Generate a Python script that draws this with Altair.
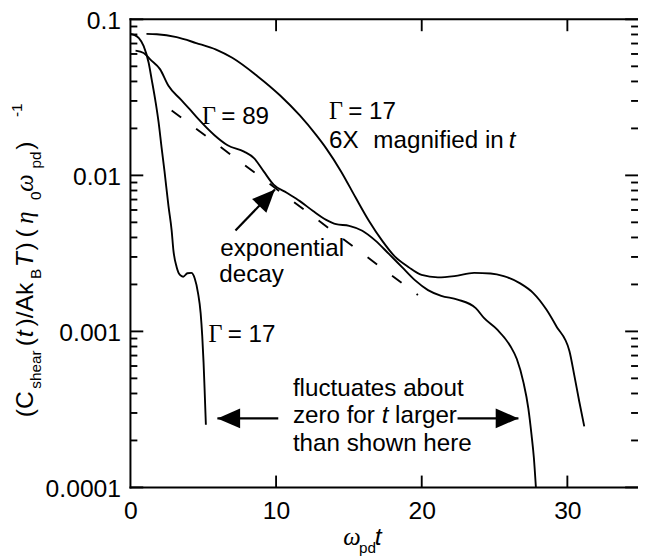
import altair as alt
import pandas as pd

# ---------------- data ----------------
# Gamma = 17 (unmagnified)
g17_t = [0.01, 0.24, 0.58, 0.91, 1.25, 1.46, 1.73, 1.93, 2.13, 2.34, 2.61, 2.83, 2.95,
         3.17, 3.40, 3.62, 3.91, 4.18, 4.41, 4.64, 4.82, 4.93, 5.02, 5.09, 5.18]
g17_c = [0.0807, 0.0796, 0.0758, 0.0674, 0.0527, 0.0411, 0.0294, 0.0220, 0.0153, 0.0106,
         0.00637, 0.00443, 0.00331, 0.00259, 0.00230, 0.00224, 0.00236, 0.00237, 0.00219,
         0.00176, 0.00131, 0.000933, 0.000633, 0.000429, 0.000252]

# Gamma = 89
g89_t = [0.35, 0.91, 1.37, 2.04, 2.61, 3.45, 4.08, 4.64, 5.77, 6.67, 7.80, 8.48, 9.15, 9.83,
         10.73, 11.63, 12.54, 13.44, 14.12, 15.02, 15.92, 16.82, 17.73, 18.63, 19.53, 20.43,
         21.34, 22.46, 23.71, 24.27, 25.17, 26.08, 26.53, 26.98, 27.32, 27.54, 27.70, 27.84]
g89_c = [0.0630, 0.0609, 0.0552, 0.0478, 0.0375, 0.0307, 0.0265, 0.0231, 0.0181, 0.0156,
         0.0142, 0.0129, 0.0106, 0.00872, 0.00773, 0.00684, 0.00591, 0.00519, 0.00487,
         0.00475, 0.00442, 0.00382, 0.00315, 0.00259, 0.00213, 0.00184, 0.00169, 0.00160,
         0.00141, 0.00122, 0.00103, 0.000807, 0.000665, 0.000473, 0.000321, 0.000217,
         0.000155, 0.0001]

# Gamma = 17, 6X magnified in t
g17m_t = [1.10, 1.81, 3.17, 4.52, 5.88, 6.99, 8.70, 10.28, 11.63, 12.76, 13.44, 14.46,
          15.47, 16.37, 17.28, 18.18, 19.08, 19.99, 21.11, 22.24, 23.60, 24.73, 25.63, 26.76,
          27.66, 28.56, 29.24, 30.14, 30.48, 30.82, 31.16]
g17m_c = [0.0807, 0.0803, 0.0769, 0.0705, 0.0640, 0.0567, 0.0434, 0.0325, 0.0242, 0.0181,
          0.0149, 0.0106, 0.00718, 0.00512, 0.00382, 0.00300, 0.00259, 0.00230, 0.00222,
          0.00226, 0.00237, 0.00235, 0.00226, 0.00203, 0.00176, 0.00138, 0.00108, 0.000750,
          0.000521, 0.000354, 0.000246]

# exponential-decay guide (dashed)
exp_t = [2.83, 19.74]
exp_c = [0.0261, 0.00171]

# arrows: tail -> tip
arr_x = [7.21, 10.15, 22.46]
arr_y = [0.00443, 0.000277, 0.000277]
arr_x2 = [9.92, 5.97, 26.64]
arr_y2 = [0.00812, 0.000277, 0.000277]
arr_angle = [43.8, 270, 90]

x_ticks = [0, 10, 20, 30]
y_major = [0.1, 0.01, 0.001, 0.0001]
y_minor = [m * 10.0 ** e for e in (-4, -3, -2) for m in range(2, 10)]

# ---------------- chart ----------------
W, H = 514, 474
SANS = "Liberation Sans"
SERIF = "Liberation Serif"
FS = 24.5

xs = alt.Scale(domain=[0, 34.85], nice=False, zero=False)
ys = alt.Scale(type="log", domain=[0.0001, 0.1], nice=False)
xax = alt.Axis(values=x_ticks, format="d", labelFont=SANS, labelFontSize=25,
               labelColor="black", labelPadding=11, domain=False, ticks=False, grid=False,
               title=None, labelFlush=False, labelOverlap=False)
yax = alt.Axis(values=y_major, format=".4~f", labelFont=SANS, labelFontSize=25,
               labelColor="black", labelPadding=10, labelOffset=1.5, domain=False,
               ticks=False, grid=False, title=None, labelFlush=False, labelOverlap=False)


def X(f):
    return alt.X(f, scale=xs, axis=xax)


def Y(f):
    return alt.Y(f, scale=ys, axis=yax)


rows = []
for name, ts, cs in (("g17", g17_t, g17_c), ("g89", g89_t, g89_c), ("g17m", g17m_t, g17m_c)):
    for i, (t, c) in enumerate(zip(ts, cs)):
        rows.append({"series": name, "i": i, "t": t, "c": c})
curves = pd.DataFrame(rows)

lines = alt.Chart(curves).mark_line(color="black", strokeWidth=1.9, interpolate="monotone").encode(
    x=X("t:Q"), y=Y("c:Q"), detail="series:N", order="i:Q")

dashed = alt.Chart(pd.DataFrame({"t": exp_t, "c": exp_c})).mark_line(
    color="black", strokeWidth=1.9, strokeDash=[12, 19]).encode(x=X("t:Q"), y=Y("c:Q"))

one = pd.DataFrame({"a": [0]})
TW = 1.9


def yticks(vals, length):
    d = pd.DataFrame({"v": vals})
    left = alt.Chart(d).mark_rule(color="black", strokeWidth=TW).encode(
        y=Y("v:Q"), x=alt.value(0), x2=alt.value(length))
    right = alt.Chart(d).mark_rule(color="black", strokeWidth=TW).encode(
        y=Y("v:Q"), x=alt.value(W), x2=alt.value(W - length))
    return [left, right]


xt = pd.DataFrame({"v": [10, 20, 30]})
bottom_ticks = alt.Chart(xt).mark_rule(color="black", strokeWidth=TW).encode(
    x=X("v:Q"), y=alt.value(H), y2=alt.value(H - 12))
top_ticks = alt.Chart(xt).mark_rule(color="black", strokeWidth=TW).encode(
    x=X("v:Q"), y=alt.value(0), y2=alt.value(12))

frame = [
    alt.Chart(one).mark_rule(color="black", strokeWidth=2, strokeCap="square").encode(
        x=alt.value(0), y=alt.value(0), y2=alt.value(H)),
    alt.Chart(one).mark_rule(color="black", strokeWidth=2, strokeCap="square").encode(
        x=alt.value(0), x2=alt.value(W + 2), y=alt.value(0)),
    alt.Chart(one).mark_rule(color="black", strokeWidth=2, strokeCap="square").encode(
        x=alt.value(0), x2=alt.value(W + 2), y=alt.value(H)),
]

arrows = pd.DataFrame({"x": arr_x, "y": arr_y, "x2": arr_x2, "y2": arr_y2, "a": arr_angle})
shafts = alt.Chart(arrows).mark_rule(color="black", strokeWidth=2.2).encode(
    x=X("x:Q"), y=Y("y:Q"), x2="x2:Q", y2="y2:Q")
HEAD = "M0,0L0.87,2L-0.87,2Z"
heads = alt.Chart(arrows).mark_point(shape=HEAD, filled=True, size=529, color="black",
                                     opacity=1, strokeWidth=0).encode(
    x=X("x2:Q"), y=Y("y2:Q"), angle=alt.Angle("a:Q", scale=None))


def txt(s, x, y, size=FS, font=SANS, style="normal", angle=0):
    return alt.Chart(pd.DataFrame({"s": [s]})).mark_text(
        align="left", baseline="alphabetic", font=font, fontSize=size, fontStyle=style,
        color="black", angle=angle).encode(x=alt.value(x), y=alt.value(y), text="s:N")


SUB = 15.5
texts = [
    # Gamma = 89
    txt("Γ", 72.5, 105.5, font=SERIF), txt("= 89", 92, 105.5),
    # Gamma = 17 magnified
    txt("Γ", 201, 100.7, font=SERIF), txt("= 17", 220.5, 100.7),
    txt("6X", 201, 130.5), txt("magnified in", 246, 130.5),
    txt("t", 383, 130.5, style="italic"),
    # exponential decay
    txt("exponential", 91, 240), txt("decay", 90, 266),
    # Gamma = 17 lower
    txt("Γ", 79, 327, font=SERIF), txt("= 17", 98.5, 327),
    # fluctuates ...
    txt("fluctuates about", 164.5, 381),
    txt("zero for", 164.5, 409), txt("t", 254.5, 409, style="italic"),
    txt("larger", 268, 409),
    txt("than shown here", 164.5, 437.5),
    # x title
    txt("ω", 215.5, 532.3, size=25, font=SERIF, style="italic"),
    txt("pd", 231.5, 540, size=SUB),
    txt("t", 247.5, 532.3, size=25, style="italic"),
    # y title (rotated)
    txt("(C", -99, 403, size=25, angle=270),
    txt("shear", -91, 374, size=SUB, angle=270),
    txt("(", -99, 331, size=25, angle=270),
    txt("t", -99, 322, size=25, style="italic", angle=270),
    txt(")/Ak", -99, 311, size=25, angle=270),
    txt("B", -91, 263, size=SUB, angle=270),
    txt("T", -99, 251, size=25, style="italic", angle=270),
    txt(")", -99, 234, size=25, angle=270),
    txt("(", -99, 221, size=25, angle=270),
    txt("η", -99, 207, size=25, font=SERIF, style="italic", angle=270),
    txt("0", -91, 183, size=SUB, angle=270),
    txt("ω", -99, 174.5, size=25, font=SERIF, style="italic", angle=270),
    txt("pd", -91, 151, size=SUB, angle=270),
    txt(")", -99, 132, size=25, angle=270),
    txt("-1", -110, 99, size=SUB, angle=270),
]

layers = ([lines, dashed] + yticks(y_major, 13) + yticks(y_minor, 7)
          + [bottom_ticks, top_ticks] + frame + [shafts, heads] + texts)

chart = alt.layer(*layers).properties(
    width=W, height=H,
    padding={"left": 124, "top": 8, "right": 0, "bottom": 70},
    autosize=alt.AutoSizeParams(type="none"),
).configure_view(stroke=None)

chart.save("out.html", embed_options={"renderer": "svg", "actions": False})
